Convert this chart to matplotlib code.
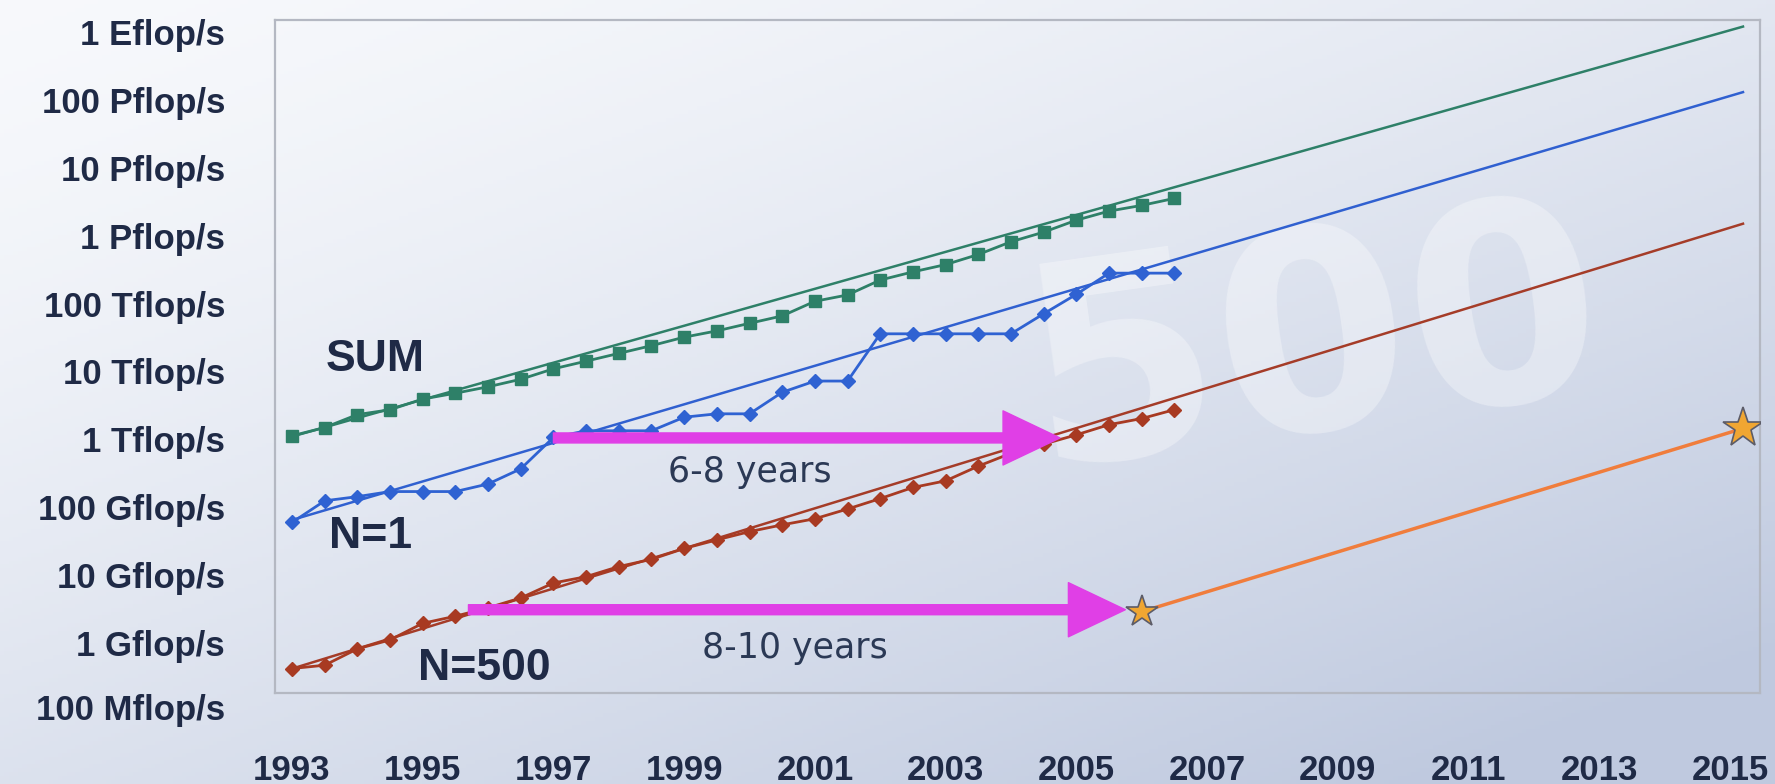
import numpy as np
import matplotlib
matplotlib.use("Agg")
import matplotlib.pyplot as plt
from matplotlib.transforms import blended_transform_factory

# TOP500 list dates (June / November lists)
list_dates = [1993.0, 1993.5, 1994.0, 1994.5, 1995.0, 1995.5, 1996.0, 1996.5,
              1997.0, 1997.5, 1998.0, 1998.5, 1999.0, 1999.5, 2000.0, 2000.5,
              2001.0, 2001.5, 2002.0, 2002.5, 2003.0, 2003.5, 2004.0, 2004.5,
              2005.0, 2005.5, 2006.0, 2006.5]

# performance in Gflop/s
sum_gflops = [1128.6, 1493.4, 2317.4, 2732.2, 3927.5, 4784.4, 5948.2, 7676.6,
              10943, 14186, 18460, 24000, 32000, 39600, 51200, 65800,
              108000, 134000, 222000, 293000, 375000, 528000, 813000, 1127000,
              1690000, 2300000, 2790000, 3540000]
n1_gflops = [59.7, 124.5, 143.4, 170.4, 170.4, 170.4, 220.4, 368.2,
             1068, 1338, 1338, 1338, 2121, 2379, 2379, 4938,
             7226, 7226, 35860, 35860, 35860, 35860, 35860, 70720,
             136800, 280600, 280600, 280600]
n500_gflops = [0.422, 0.472, 0.822, 1.114, 1.955, 2.489, 3.306, 4.620,
               7.670, 9.513, 13.39, 17.12, 24.73, 33.11, 43.82, 55.1,
               67.78, 94.3, 134.3, 195.8, 245.1, 403.4, 624, 850.6,
               1166, 1646, 2026, 2737]

# extrapolated trend lines
trend_years = [1993.0, 2015.2]
sum_trend = [1100, 1.2e9]
n1_trend = [65, 1.3e8]
n500_trend = [0.42, 1.5e6]

# orange line between the two stars
star_years = [2006.0, 2015.2]
star_gflops = [2.9, 1450]

# arrows: (start year, end year, level in Gflop/s, label, label x, label y)
arrow_specs = [
    (1997.0, 2004.75, 1050, "6-8 years", 2000.0, 330),
    (1995.7, 2005.75, 3.1, "8-10 years", 2000.7, 0.86),
]

ytick_vals = [1, 10, 100, 1e3, 1e4, 1e5, 1e6, 1e7, 1e8, 1e9]
ytick_labels = ["1 Gflop/s", "10 Gflop/s", "100 Gflop/s", "1 Tflop/s",
                "10 Tflop/s", "100 Tflop/s", "1 Pflop/s", "10 Pflop/s",
                "100 Pflop/s", "1 Eflop/s"]
xtick_years = [1993, 1995, 1997, 1999, 2001, 2003, 2005, 2007, 2009, 2011, 2013, 2015]

navy = "#1f2a46"
bold_font = ["Liberation Sans", "DejaVu Sans"]

fig = plt.figure(figsize=(17.75, 7.84), dpi=100)

# background gradient
bg = fig.add_axes([0, 0, 1, 1], zorder=-10)
u = np.linspace(0, 1, 400)[None, :]
v = np.linspace(0, 1, 200)[:, None]
t = np.clip(0.5 * u + 0.6 * v, 0, 1) ** 1.4
c0 = np.array([0.97, 0.976, 0.988])
c1 = np.array([0.75, 0.79, 0.875])
img = c0[None, None, :] + (c1 - c0)[None, None, :] * t[:, :, None]
bg.imshow(img, aspect="auto", extent=[0, 1, 0, 1], origin="upper")
bg.set_axis_off()

ax = fig.add_axes([275 / 1775, 1 - 693 / 784, (1760 - 275) / 1775, (693 - 20) / 784])
ax.set_facecolor("none")
ax.set_yscale("log")
ax.set_xlim(1992.74, 2015.46)
ax.set_ylim(0.184, 1.5e9)

# watermark
ax.text(0.70, 0.51, "500", transform=ax.transAxes, fontsize=200, fontweight="bold",
        color="white", alpha=0.33, ha="center", va="center", rotation=8,
        family=["DejaVu Sans"], zorder=0.5)

# trend lines
ax.plot(trend_years, sum_trend, color="#2e8068", lw=1.8, zorder=2)
ax.plot(trend_years, n1_trend, color="#3060d0", lw=1.8, zorder=2)
ax.plot(trend_years, n500_trend, color="#a53c28", lw=1.8, zorder=2)

# measured data
ax.plot(list_dates, sum_gflops, color="#2e8068", lw=2, marker="s", ms=8.5, zorder=3)
ax.plot(list_dates, n1_gflops, color="#2f62d2", lw=2, marker="D", ms=7.5, zorder=3)
ax.plot(list_dates, n500_gflops, color="#a83a22", lw=2, marker="D", ms=7, zorder=3)

# orange projection with stars
ax.plot(star_years, star_gflops, color="#f07d3c", lw=2.5, zorder=3)
ax.plot(star_years[0], star_gflops[0], marker="*", ms=24, color="#f0a632",
        mec="#5c5c68", mew=1.2, zorder=5)
ax.plot(star_years[1], star_gflops[1], marker="*", ms=30, color="#f0a632",
        mec="#5c5c68", mew=1.2, zorder=5)

# arrows and labels
for x0, x1, level, label, lx, ly in arrow_specs:
    ax.annotate("", xy=(x1, level), xytext=(x0, level),
                arrowprops=dict(arrowstyle="simple,head_length=4.1,head_width=3.9,tail_width=0.72",
                                color="#e03fe6", shrinkA=0, shrinkB=0, mutation_scale=10),
                zorder=4)
    ax.text(lx, ly, label, fontsize=25, color="#2b3955", ha="center", va="center",
            family=["DejaVu Sans"], zorder=6)

# series labels
for text, x, y in [("SUM", 1994.27, 1.5e4), ("N=1", 1994.2, 37), ("N=500", 1995.95, 0.42)]:
    ax.text(x, y, text, fontsize=32, fontweight="bold", color=navy, ha="center",
            va="center", family=bold_font, zorder=6)

# axes styling
for sp in ax.spines.values():
    sp.set_color("#b4b8c2")
    sp.set_linewidth(1.6)
ax.set_yticks(ytick_vals)
ax.set_yticklabels(ytick_labels)
ax.minorticks_off()
ax.set_xticks(xtick_years)
ax.set_xticklabels([str(y) for y in xtick_years])
ax.tick_params(axis="y", length=0, pad=36, labelsize=25, labelcolor=navy)
ax.tick_params(axis="x", length=0, pad=44, labelsize=25, labelcolor=navy)
for lab in ax.get_yticklabels() + ax.get_xticklabels():
    lab.set_fontweight("bold")
    lab.set_family(bold_font)

# 100 Mflop/s sits below the frame
trans = blended_transform_factory(ax.transAxes, ax.transData)
ax.text(-50 / 1485, 0.1, "100 Mflop/s", transform=trans, ha="right", va="center",
        fontsize=25, fontweight="bold", color=navy, family=bold_font, clip_on=False)

fig.savefig("out.png", dpi=100)
